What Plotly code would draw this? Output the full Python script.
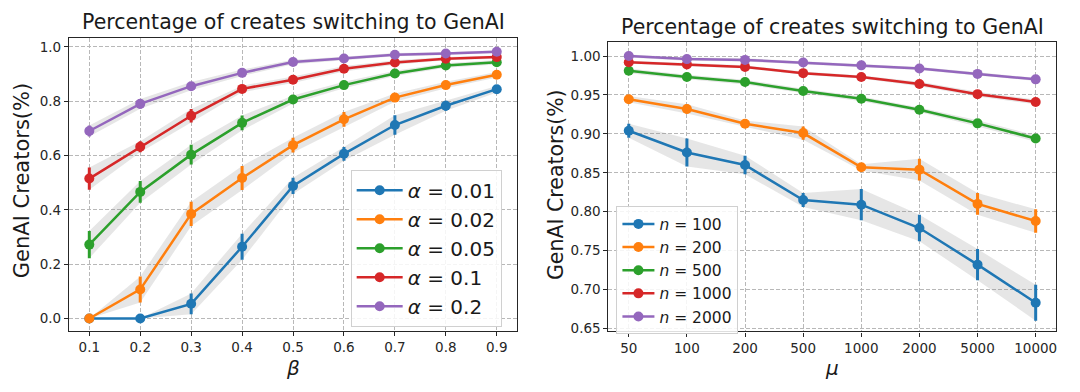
import plotly.graph_objects as go

# ---------------- data ----------------
beta = [0.1, 0.2, 0.3, 0.4, 0.5, 0.6, 0.7, 0.8, 0.9]
alpha_labels = ["0.01", "0.02", "0.05", "0.1", "0.2"]
left_vals = [
    [0.0, 0.0, 0.054, 0.264, 0.488, 0.606, 0.712, 0.783, 0.844],
    [0.0, 0.107, 0.385, 0.517, 0.638, 0.733, 0.813, 0.859, 0.897],
    [0.272, 0.466, 0.603, 0.720, 0.806, 0.859, 0.902, 0.931, 0.943],
    [0.515, 0.632, 0.746, 0.845, 0.879, 0.919, 0.942, 0.956, 0.962],
    [0.690, 0.790, 0.855, 0.904, 0.944, 0.957, 0.971, 0.975, 0.982],
]
left_err = [
    [0.0, 0.0, 0.038, 0.048, 0.030, 0.025, 0.036, 0.018, 0.012],
    [0.0, 0.048, 0.045, 0.044, 0.027, 0.027, 0.015, 0.012, 0.010],
    [0.050, 0.040, 0.036, 0.027, 0.015, 0.012, 0.010, 0.008, 0.008],
    [0.041, 0.020, 0.025, 0.012, 0.012, 0.010, 0.008, 0.006, 0.006],
    [0.020, 0.018, 0.015, 0.012, 0.008, 0.006, 0.006, 0.005, 0.005],
]

mu_labels = ["50", "100", "200", "500", "1000", "2000", "5000", "10000"]
n_labels = ["100", "200", "500", "1000", "2000"]
right_vals = [
    [0.904, 0.876, 0.860, 0.815, 0.809, 0.779, 0.732, 0.683],
    [0.9445, 0.932, 0.913, 0.901, 0.857, 0.854, 0.810, 0.788],
    [0.981, 0.973, 0.9665, 0.955, 0.945, 0.931, 0.9135, 0.894],
    [0.992, 0.989, 0.986, 0.978, 0.973, 0.964, 0.951, 0.941],
    [1.000, 0.996, 0.995, 0.9916, 0.988, 0.984, 0.977, 0.970],
]
right_err = [
    [0.009, 0.018, 0.012, 0.009, 0.020, 0.017, 0.020, 0.023],
    [0.004, 0.006, 0.004, 0.0085, 0.004, 0.014, 0.014, 0.015],
    [0.003, 0.003, 0.003, 0.003, 0.003, 0.003, 0.004, 0.004],
    [0.002, 0.002, 0.002, 0.002, 0.002, 0.003, 0.003, 0.003],
    [0.002, 0.002, 0.002, 0.002, 0.002, 0.002, 0.002, 0.002],
]

colors = ["#1f77b4", "#ff7f0e", "#2ca02c", "#d62728", "#9467bd"]
band_color = "rgba(128,128,128,0.2)"
FONT = "DejaVu Sans"
TXT = "#1a1a1a"

fig = go.Figure()


def add_panel(xs, vals, errs, labels, prefix, xa, ya, legend):
    for v, e in zip(vals, errs):
        upper = [a + b for a, b in zip(v, e)]
        lower = [a - b for a, b in zip(v, e)]
        fig.add_trace(go.Scatter(x=xs, y=upper, mode="lines", line=dict(width=0),
                                 showlegend=False, hoverinfo="skip", xaxis=xa, yaxis=ya))
        fig.add_trace(go.Scatter(x=xs, y=lower, mode="lines", line=dict(width=0),
                                 fill="tonexty", fillcolor=band_color,
                                 showlegend=False, hoverinfo="skip", xaxis=xa, yaxis=ya))
    for v, e, lab, c in zip(vals, errs, labels, colors):
        fig.add_trace(go.Scatter(
            x=xs, y=v, mode="lines+markers", name=f"<i>{prefix}</i> = {lab}",
            line=dict(color=c, width=2.5), marker=dict(color=c, size=10),
            error_y=dict(type="data", array=e, visible=True, color=c, thickness=3, width=0),
            xaxis=xa, yaxis=ya, legend=legend))


add_panel(beta, left_vals, left_err, alpha_labels, "α", "x", "y", "legend")
add_panel(mu_labels, right_vals, right_err, n_labels, "n", "x2", "y2", "legend2")

W, H = 1080, 392
L1, R1, T1, B1 = 69, 517.6, 38.3, 335
L2, R2, T2, B2 = 609, 1057, 42.3, 335.7

axis_common = dict(
    showline=True, mirror=True, linecolor="#262626", linewidth=1.2,
    ticks="outside", ticklen=4, tickcolor="#262626", tickwidth=1,
    showgrid=True, gridcolor="#b8b8b8", griddash="4px,2px", gridwidth=0.8,
    zeroline=False, tickfont=dict(family=FONT, size=13.5, color="#262626"),
)


def ann(text, x, y, size, angle=0):
    return dict(text=text, x=x / W, y=1 - y / H, xref="paper", yref="paper", showarrow=False,
                xanchor="center", yanchor="middle", textangle=angle,
                font=dict(family=FONT, size=size, color=TXT))


fig.update_layout(
    width=W, height=H, margin=dict(l=0, r=0, t=0, b=0),
    paper_bgcolor="white", plot_bgcolor="white",
    font=dict(family=FONT, color=TXT),
    xaxis=dict(domain=[L1 / W, R1 / W], range=[0.06, 0.94], anchor="y",
               tickvals=beta, ticktext=[f"{b:.1f}" for b in beta], **axis_common),
    yaxis=dict(domain=[1 - B1 / H, 1 - T1 / H], range=[-0.045, 1.033], anchor="x",
               tickvals=[0, 0.2, 0.4, 0.6, 0.8, 1.0], ticktext=["0.0", "0.2", "0.4", "0.6", "0.8", "1.0"],
               **axis_common),
    xaxis2=dict(domain=[L2 / W, R2 / W], range=[-0.35, 7.35], anchor="y2", type="category",
                categoryorder="array", categoryarray=mu_labels, **axis_common),
    yaxis2=dict(domain=[1 - B2 / H, 1 - T2 / H], range=[0.6462, 1.0183], anchor="x2",
                tickvals=[0.65, 0.70, 0.75, 0.80, 0.85, 0.90, 0.95, 1.00],
                ticktext=["0.65", "0.70", "0.75", "0.80", "0.85", "0.90", "0.95", "1.00"],
                **axis_common),
    legend=dict(x=351 / W, y=1 - 172 / H, xanchor="left", yanchor="top", traceorder="normal",
                itemwidth=46,
                bgcolor="rgba(255,255,255,0.85)", bordercolor="#d0d0d0", borderwidth=1,
                font=dict(family=FONT, size=20, color=TXT)),
    legend2=dict(x=617 / W, y=1 - 209 / H, xanchor="left", yanchor="top", traceorder="normal",
                 itemwidth=32,
                 bgcolor="rgba(255,255,255,0.85)", bordercolor="#d0d0d0", borderwidth=1,
                 font=dict(family=FONT, size=15.5, color=TXT)),
    showlegend=True,
    annotations=[
        ann("Percentage of creates switching to GenAI", (L1 + R1) / 2, 22, 20.5),
        ann("Percentage of creates switching to GenAI", (L2 + R2) / 2, 27, 20.5),
        ann("GenAI Creators(%)", 22, 182.5, 21, -90),
        ann("GenAI Creators(%)", 556, 187, 20.5, -90),
        ann("<i>β</i>", (L1 + R1) / 2, 373, 20),
        ann("<i>μ</i>", (L2 + R2) / 2, 373, 20),
    ],
)

fig.write_html("out.html", config={"displayModeBar": False},
               post_script="document.body.style.margin='0px';document.body.style.overflow='hidden';")
